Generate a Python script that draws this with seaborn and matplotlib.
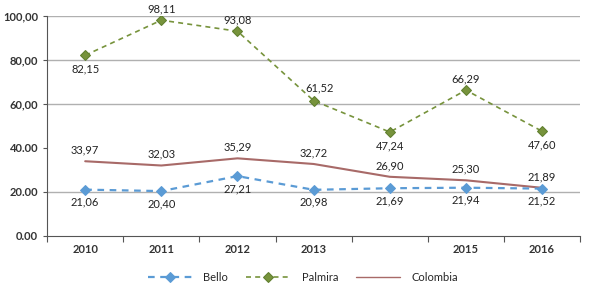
import numpy as np
import pandas as pd
import matplotlib.pyplot as plt
import seaborn as sns

### Data
years = ["2010", "2011", "2012", "2013", "", "2015", "2016"]
bello = [21.06, 20.40, 27.21, 20.98, 21.69, 21.94, 21.52]
palmira = [82.15, 98.11, 93.08, 61.52, 47.24, 66.29, 47.60]
colombia = [33.97, 32.03, 35.29, 32.72, 26.90, 25.30, 21.89]
ytick_vals = [0, 20, 40, 60, 80, 100]
ytick_labels = ["0.00", "20.00", "40.00", "60,00", "80,00", "100,00"]

sns.set_style("white")
plt.rcParams['font.family'] = ['Lato', 'DejaVu Sans']

df = pd.DataFrame({"x": np.arange(len(years)), "Bello": bello,
                   "Palmira": palmira, "Colombia": colombia})

fig = plt.figure(figsize=(5.89, 2.86), dpi=100)
ax = fig.add_axes([0.08, 0.175, 0.905, 0.769])

# gridlines (reference shows none at 40)
for v in [20, 60, 80, 100]:
    ax.axhline(v, color="#b0b0b0", lw=1.0, zorder=0)

sns.lineplot(data=df, x="x", y="Colombia", ax=ax, color="#a86a68", lw=1.5,
             label="Colombia")
sns.lineplot(data=df, x="x", y="Bello", ax=ax, color="#5b9bd5", lw=1.6,
             marker="D", markersize=5, markeredgecolor="#5b9bd5",
             label="Bello")
ax.lines[-1].set_linestyle((0, (3, 2.5)))
sns.lineplot(data=df, x="x", y="Palmira", ax=ax, color="#77933c", lw=1.2,
             marker="D", markersize=5, markeredgecolor="#5f7f2f",
             label="Palmira")
ax.lines[-1].set_linestyle((0, (3, 2.5)))

fmt = lambda v: f"{v:.2f}".replace(".", ",")
for i in range(len(years)):
    ax.annotate(fmt(bello[i]), (i, bello[i]), xytext=(0, -9), textcoords="offset points",
                ha="center", va="center", fontsize=8, color="#222222")
    ax.annotate(fmt(colombia[i]), (i, colombia[i]), xytext=(0, 8), textcoords="offset points",
                ha="center", va="center", fontsize=8, color="#222222")
pal_off = [(0, -10), (0, 8), (0, 8), (4, 9), (0, -10), (0, 8), (0, -10)]
for i in range(len(years)):
    ax.annotate(fmt(palmira[i]), (i, palmira[i]), xytext=pal_off[i], textcoords="offset points",
                ha="center", va="center", fontsize=8, color="#222222")

ax.set_xlim(-0.5, len(years) - 0.5)
ax.set_ylim(0, 100)
ax.set_xticks(np.arange(len(years) + 1) - 0.5)
ax.set_xticklabels([])
ax.set_xticks(np.arange(len(years)), minor=True)
ax.set_xticklabels(years, minor=True, fontsize=8, fontweight="bold", color="#333333")
ax.tick_params(axis="x", which="major", length=4, direction="out", color="#555555", bottom=True)
ax.tick_params(axis="x", which="minor", length=0, pad=6)
ax.set_yticks(ytick_vals)
ax.set_yticklabels(ytick_labels, fontsize=8, fontweight="bold", color="#333333")
ax.tick_params(axis="y", length=3, direction="out", color="#555555", left=True)
ax.set_xlabel("")
ax.set_ylabel("")
for s in ["top", "right"]:
    ax.spines[s].set_visible(False)
ax.spines["left"].set_color("#555555")
ax.spines["bottom"].set_color("#555555")

h, l = ax.get_legend_handles_labels()
order = [l.index("Bello"), l.index("Palmira"), l.index("Colombia")]
leg = ax.legend([h[i] for i in order], [l[i] for i in order], loc="center",
                bbox_to_anchor=(0.48, -0.19), ncol=3, frameon=False, fontsize=8,
                handlelength=4, handletextpad=1.0, columnspacing=1.6)
leg.get_lines()[2].set_linewidth(1.0)

plt.savefig("out.png", dpi=100)
